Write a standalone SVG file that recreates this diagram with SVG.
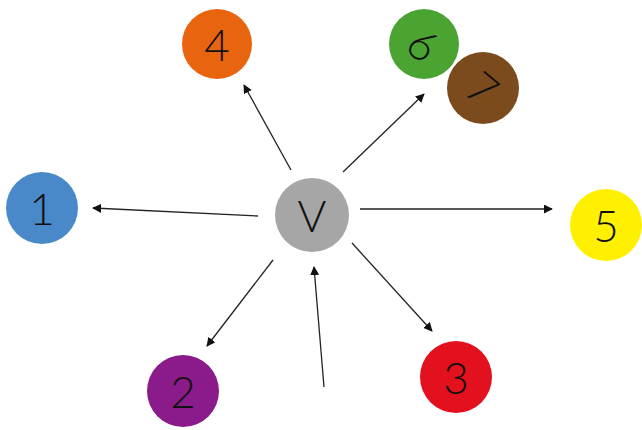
<svg xmlns="http://www.w3.org/2000/svg" width="642" height="430" viewBox="0 0 642 430">
<style>
.lbl{font-family:"Lato","Liberation Sans",sans-serif;font-weight:300;font-size:44px;fill:#111;text-anchor:middle;dominant-baseline:central}
.edge{stroke:#222;stroke-width:1.3;fill:none;marker-end:url(#ah)}
</style>
<defs>
<marker id="ah" viewBox="0 0 10 10" refX="9" refY="5" markerWidth="9" markerHeight="9" markerUnits="userSpaceOnUse" orient="auto">
<path d="M0,0 L10,5 L0,10 z" fill="#111"/>
</marker>
</defs>
<rect width="642" height="430" fill="#fff"/>
<g id="connectors">
<line class="edge" x1="258" y1="216" x2="93" y2="208"/>
<line class="edge" x1="291" y1="170" x2="244" y2="85"/>
<line class="edge" x1="343" y1="172" x2="424" y2="94"/>
<line class="edge" x1="360" y1="209" x2="552" y2="209"/>
<line class="edge" x1="352" y1="243" x2="432" y2="331"/>
<line class="edge" x1="273" y1="260" x2="207" y2="346"/>
<line class="edge" x1="324" y1="387" x2="314" y2="267"/>
</g>
<g id="node-v"><circle cx="312" cy="215" r="37" fill="#a6a6a6"/><text class="lbl" x="312" y="215">V</text></g>
<g id="node-1"><circle cx="42" cy="208" r="36" fill="#4a89c9"/><text class="lbl" x="42" y="208">1</text></g>
<g id="node-4"><circle cx="217" cy="44" r="35" fill="#e8640f"/><text class="lbl" x="217" y="44">4</text></g>
<g id="node-6"><circle cx="424" cy="44" r="35" fill="#4ba432"/><text class="lbl" x="424" y="44" transform="rotate(40 424 44)">6</text></g>
<g id="node-7"><circle cx="483" cy="88" r="36" fill="#7b4b1d"/><text class="lbl" x="483" y="88" transform="rotate(40 483 88)">7</text></g>
<g id="node-5"><circle cx="606" cy="225" r="36" fill="#fff000"/><text class="lbl" x="606" y="225">5</text></g>
<g id="node-3"><circle cx="456" cy="377" r="36" fill="#e3101d"/><text class="lbl" x="456" y="377">3</text></g>
<g id="node-2"><circle cx="183" cy="391" r="36" fill="#8b1a8b"/><text class="lbl" x="183" y="391">2</text></g>
</svg>
